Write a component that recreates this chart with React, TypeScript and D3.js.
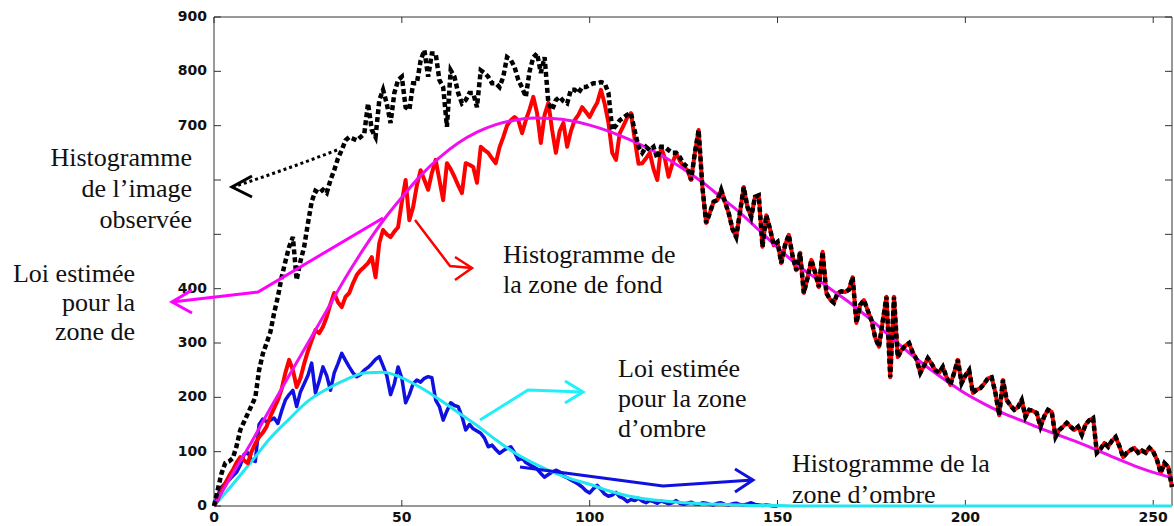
import React from "react";
import * as d3 from "d3";

// Grey levels 0..255 (index = grey level)
const backgroundHist: number[] = [
  0, 12, 28, 42, 55, 66, 80, 90, 84, 79,
  100, 115, 127, 135, 146, 165, 180, 195, 215, 245,
  269, 250, 219, 235, 262, 285, 305, 324, 318, 330,
  348, 372, 392, 375, 366, 385, 392, 410, 425, 434,
  440, 447, 458, 421, 484, 508, 500, 495, 505, 513,
  560, 600, 526, 550, 590, 618, 600, 582, 613, 637,
  600, 563, 631, 620, 606, 590, 576, 631, 628, 624,
  595, 661, 655, 650, 640, 631, 660, 679, 700, 710,
  716, 710, 686, 710, 730, 753, 723, 668, 720, 742,
  692, 650, 690, 705, 661, 690, 710, 720, 734, 725,
  716, 730, 742, 766, 740, 705, 650, 637, 686, 700,
  715, 723, 674, 630, 631, 640, 650, 620, 600, 661,
  640, 606, 630, 650, 635, 625, 618, 600, 650, 692,
  587, 521, 540, 560, 563, 582, 560, 539, 510, 495,
  540, 587, 550, 532, 569, 572, 477, 535, 510, 480,
  486, 447, 480, 499, 460, 434, 466, 392, 420, 453,
  430, 403, 468, 392, 380, 374, 392, 395, 394, 398,
  421, 337, 370, 379, 360, 342, 310, 293, 340, 385,
  237, 385, 274, 287, 295, 300, 282, 270, 245, 258,
  272, 262, 250, 245, 256, 237, 223, 245, 269, 226,
  240, 250, 208, 214, 217, 225, 235, 237, 208, 167,
  232, 195, 185, 177, 182, 195, 164, 177, 175, 171,
  146, 165, 177, 173, 127, 140, 146, 153, 146, 140,
  146, 131, 150, 158, 162, 98, 105, 116, 109, 120,
  127, 110, 90, 98, 103, 107, 98, 102, 98, 107,
  100, 85, 61, 79, 72, 35,
];

// Observed image histogram, grey levels 0..129 (beyond 129 it coincides with the background histogram)
const observedHead: number[] = [
  0, 30, 60, 79, 82, 88, 110, 140, 155, 170,
  185, 200, 250, 280, 300, 320, 355, 385, 421, 450,
  477, 495, 416, 450, 477, 520, 560, 580, 576, 582,
  576, 600, 618, 640, 655, 673, 679, 676, 673, 679,
  685, 741, 692, 679, 747, 766, 740, 705, 760, 784,
  790, 734, 729, 778, 778, 820, 839, 790, 833, 833,
  784, 771, 698, 802, 790, 760, 741, 747, 760, 760,
  734, 802, 797, 790, 778, 778, 771, 790, 826, 821,
  808, 784, 770, 753, 800, 826, 833, 797, 826, 742,
  729, 747, 753, 745, 741, 766, 766, 760, 771, 771,
  775, 778, 778, 780, 778, 760, 692, 700, 710, 715,
  720, 723, 690, 661, 650, 661, 655, 661, 640, 661,
  661, 655, 650, 650, 642, 630, 624, 600, 650, 692,
];
const observedHist: number[] = observedHead.concat(backgroundHist.slice(observedHead.length));

// Shadow zone histogram, grey levels 0..150
const shadowHist: number[] = [
  0, 20, 35, 42, 48, 55, 62, 75, 95, 98,
  85, 82, 150, 160, 155, 158, 162, 152, 175, 195,
  205, 213, 183, 210, 225, 240, 263, 208, 230, 256,
  240, 213, 245, 262, 281, 268, 256, 245, 238, 242,
  250, 255, 262, 270, 275, 258, 240, 205, 225, 256,
  235, 190, 205, 225, 232, 228, 235, 238, 236, 195,
  183, 158, 175, 190, 185, 183, 165, 140, 150, 142,
  138, 134, 125, 109, 112, 104, 97, 102, 106, 109,
  98, 85, 88, 80, 76, 72, 68, 60, 53, 58,
  62, 66, 63, 55, 52, 48, 44, 40, 35, 28,
  24, 32, 38, 30, 22, 18, 20, 25, 17, 14,
  8, 12, 10, 14, 9, 6, 10, 8, 5, 9,
  7, 4, 6, 10, 5, 3, 5, 7, 4, 3,
  6, 5, 3, 2, 5, 6, 3, 2, 4, 5,
  3, 2, 4, 6, 3, 2, 1, 2, 1, 0,
  0,
];

// Estimated laws, sampled every 5 grey levels (0, 5, ..., 255)
const lawStep = 5;
const backgroundLaw: number[] = [
  0, 60, 118, 180, 240, 300, 360, 420, 475, 525,
  568, 608, 641, 668, 688, 702, 710, 714, 713, 709,
  701, 690, 676, 660, 642, 620, 596, 568, 540, 508,
  476, 445, 420, 395, 370, 342, 312, 282, 255, 230,
  207, 188, 171, 157, 143, 130, 117, 103, 88, 74,
  62, 52,
];
const shadowLaw: number[] = [
  0, 40, 82, 125, 160, 193, 215, 232, 245, 246,
  236, 218, 196, 172, 148, 122, 98, 79, 63, 50,
  40, 28, 19, 13, 9, 6, 4, 3, 2, 1,
  1, 0, 0, 0, 0, 0, 0, 0, 0, 0,
  0, 0, 0, 0, 0, 0, 0, 0, 0, 0,
  0, 0,
];

const xTicks = [0, 50, 100, 150, 200, 250];
const yTicks = [0, 100, 200, 300, 400, 500, 600, 700, 800, 900];
// labels hidden in the reference by the "Histogramme de l'image observée" text box
const yTicksHiddenLabel = [500, 600];

const W = 1174;
const H = 526;

const SERIF = "Liberation Serif, DejaVu Serif, Times New Roman, Times, serif";
const TICK_FONT = "DejaVu Sans, sans-serif";

export default function App() {
  const x = d3.scaleLinear().domain([0, 255]).range([214, 1172]);
  const y = d3.scaleLinear().domain([0, 900]).range([506, 17]);

  const histLine = d3
    .line<number>()
    .x((_, i) => x(i))
    .y((d) => y(d));
  const lawLine = d3
    .line<number>()
    .x((_, i) => x(i * lawStep))
    .y((d) => y(d))
    .curve(d3.curveMonotoneX);

  const [x0, x1] = x.range();
  const [yb, yt] = y.range();
  const axisColor = "#333";

  const textLines = (
    lines: string[],
    tx: number,
    ty: number,
    anchor: "start" | "end",
    dy = 30
  ) =>
    lines.map((l, i) => (
      <text
        key={l + i}
        x={tx}
        y={ty + i * dy}
        textAnchor={anchor}
        style={{ fontFamily: SERIF, fontSize: "26px" }}
        fill="#111"
      >
        {l}
      </text>
    ));

  return (
    <svg
      width={W}
      height={H}
      style={{ position: "absolute", left: 0, top: 0, background: "#fff" }}
    >
      <rect x={0} y={0} width={W} height={H} fill="#fff" />

      {/* frame */}
      <line x1={x0} x2={x1} y1={yt} y2={yt} stroke={axisColor} strokeWidth={1} />
      <line x1={x0} x2={x1} y1={yb} y2={yb} stroke={axisColor} strokeWidth={1} />
      <line x1={x0} x2={x0} y1={yt} y2={yb} stroke={axisColor} strokeWidth={1} />
      <line x1={x1} x2={x1} y1={yt} y2={yb} stroke={axisColor} strokeWidth={1} />

      {/* y ticks */}
      {yTicks.map((t) => (
        <g key={"y" + t}>
          <line x1={x0} x2={x0 + 7} y1={y(t)} y2={y(t)} stroke={axisColor} />
          <line x1={x1} x2={x1 - 7} y1={y(t)} y2={y(t)} stroke={axisColor} />
          {yTicksHiddenLabel.includes(t) ? null : (
            <text
              x={x0 - 7}
              y={y(t)}
              textAnchor="end"
              dominantBaseline="middle"
              style={{ fontFamily: TICK_FONT, fontWeight: "bold", fontSize: "14px" }}
              fill="#111"
            >
              {t}
            </text>
          )}
        </g>
      ))}

      {/* x ticks */}
      {xTicks.map((t) => (
        <g key={"x" + t}>
          <line x1={x(t)} x2={x(t)} y1={yb} y2={yb - 6} stroke={axisColor} />
          <line x1={x(t)} x2={x(t)} y1={yt} y2={yt + 6} stroke={axisColor} />
          <text
            x={x(t)}
            y={518}
            textAnchor="middle"
            dominantBaseline="middle"
            style={{ fontFamily: TICK_FONT, fontWeight: "bold", fontSize: "14px" }}
            fill="#111"
          >
            {t}
          </text>
        </g>
      ))}

      {/* data */}
      <path d={histLine(shadowHist) || ""} fill="none" stroke="#1010e0" strokeWidth={3.5} strokeLinejoin="round" />
      <path d={lawLine(shadowLaw) || ""} fill="none" stroke="#22e6f0" strokeWidth={3} />
      <path d={histLine(backgroundHist) || ""} fill="none" stroke="#ff0000" strokeWidth={4} strokeLinejoin="round" />
      <path d={lawLine(backgroundLaw) || ""} fill="none" stroke="#ee11ee" strokeWidth={3} />
      <path
        d={histLine(observedHist) || ""}
        fill="none"
        stroke="#000"
        strokeWidth={4.5}
        strokeDasharray="5 3"
      />

      {/* annotation: observed image histogram */}
      {textLines(["Histogramme", "de l\u2019image", "observée"], 192, 166, "end", 31)}
      <path d="M337,150 Q285,170 233,187" fill="none" stroke="#000" strokeWidth={3} strokeDasharray="3 3" />
      <polyline points="252,176 232,187 252,197" fill="none" stroke="#000" strokeWidth={3} />

      {/* annotation: estimated law, background zone */}
      {textLines(["Loi estimée", "pour la", "zone de"], 135, 282, "end", 29)}
      <polyline points="383,218 258,292 172,302" fill="none" stroke="#ff00ff" strokeWidth={3} />
      <polyline points="192,290 172,302 192,313" fill="none" stroke="#ff00ff" strokeWidth={3} />

      {/* annotation: background histogram */}
      {textLines(["Histogramme de", "la zone de fond"], 503, 263, "start", 30)}
      <polyline points="415,220 450,266 472,268" fill="none" stroke="#ff0000" strokeWidth={2.5} />
      <polyline points="455,257 472,268 455,280" fill="none" stroke="#ff0000" strokeWidth={2.5} />

      {/* annotation: estimated law, shadow zone */}
      {textLines(["Loi estimée", "pour la zone", "d\u2019ombre"], 618, 377, "start", 30)}
      <polyline points="480,420 528,390 583,392" fill="none" stroke="#22f0f8" strokeWidth={3} />
      <polyline points="565,381 583,392 565,403" fill="none" stroke="#22f0f8" strokeWidth={3} />

      {/* annotation: shadow histogram */}
      {textLines(["Histogramme de la", "zone d\u2019ombre"], 792, 472, "start", 31)}
      <polyline points="520,467 663,486 753,480" fill="none" stroke="#1010e0" strokeWidth={3} />
      <polyline points="735,469 753,480 735,492" fill="none" stroke="#1010e0" strokeWidth={3} />
    </svg>
  );
}
